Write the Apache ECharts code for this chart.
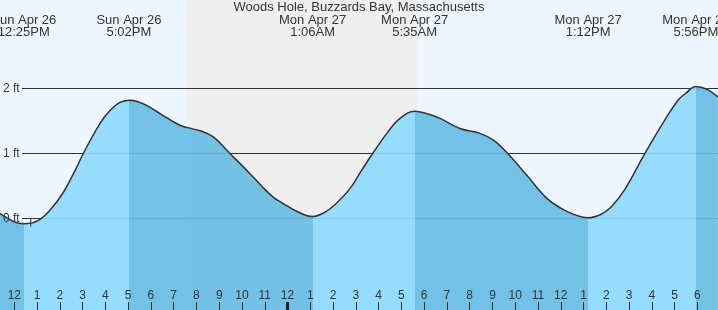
<!DOCTYPE html>
<html><head><meta charset="utf-8">
<script src="https://cdn.jsdelivr.net/npm/echarts@6/dist/echarts.min.js"></script>
<style>html,body{margin:0;padding:0;background:#EEF7FF}#c{width:718px;height:310px}</style>
</head><body><div id="c"></div>
<script>
// Hours counted from Sun Apr 26 00:00
const tideHours = [11.37,12.00,12.42,13.00,13.57,14.15,14.67,15.03,15.76,16.20,16.60,17.03,17.40,17.81,18.40,19.28,20.16,20.74,21.47,22.35,22.94,23.37,23.81,24.46,25.10,25.61,26.10,26.74,27.25,27.74,28.36,28.94,29.58,30.10,30.70,31.57,32.45,33.04,33.63,34.51,35.39,36.02,36.60,37.20,37.80,38.22,38.80,39.69,40.56,41.15,41.50,41.93,42.40,42.90];
const tideFeet  = [0.08,-0.05,-0.08,-0.04,0.13,0.40,0.74,1.00,1.46,1.66,1.78,1.82,1.80,1.74,1.615,1.435,1.35,1.255,1.00,0.69,0.47,0.33,0.23,0.10,0.03,0.09,0.22,0.46,0.74,1.00,1.31,1.54,1.65,1.615,1.54,1.385,1.31,1.205,1.015,0.665,0.31,0.155,0.06,0.01,0.07,0.18,0.44,1.00,1.51,1.82,1.93,2.03,1.99,1.87];

const extremeDays   = ['Sun Apr 26','Sun Apr 26','Mon Apr 27','Mon Apr 27','Mon Apr 27','Mon Apr 27'];
const extremeClocks = ['12:25PM','5:02PM','1:06AM','5:35AM','1:12PM','5:56PM'];
const extremeKinds  = ['low','high','low','high','low','high'];

const hourTicks = [12,13,14,15,16,17,18,19,20,21,22,23,24,25,26,27,28,29,30,31,32,33,34,35,36,37,38,39,40,41,42];
const midnightTicks = [24];
const feetTicks = [0,1,2];
const sunsetHour = 19.60;
const sunriseHour = 29.717;
const nowHour = 12.72;

const X_MIN = 11.372, X_MAX = 42.905, Y_MIN = -1.408, Y_MAX = 3.362;
const LIGHT = '#8EDAFE', DARK = '#68BDE4', INK = '#333333';

function clockToHours(day, clock) {
  const m = clock.match(/(\d+):(\d+)(AM|PM)/);
  let h = (+m[1]) % 12; if (m[3] === 'PM') h += 12;
  return (day.startsWith('Mon') ? 24 : 0) + h + (+m[2]) / 60;
}
const extremeHours = extremeDays.map((d, i) => clockToHours(d, extremeClocks[i]));
const tideData = tideHours.map((h, i) => [h, tideFeet[i]]);

const pieces = [{ lt: extremeHours[0], color: DARK }];
for (let i = 0; i < extremeHours.length - 1; i++) {
  pieces.push({ gte: extremeHours[i], lt: extremeHours[i + 1], color: extremeKinds[i + 1] === 'high' ? LIGHT : DARK });
}
pieces.push({ gte: extremeHours[extremeHours.length - 1], color: DARK });

const FONT = "'Liberation Sans', Arial, sans-serif";
const SMOOTH = 0.4;
const G = { left: 0, right: 0, top: 0, bottom: 0, containLabel: false, outerBoundsMode: 'none' };
const chart = echarts.init(document.getElementById('c'), null, { renderer: 'canvas' });
chart.setOption({
  animation: false,
  backgroundColor: '#EEF7FF',
  textStyle: { fontFamily: FONT },
  title: { text: 'Woods Hole, Buzzards Bay, Massachusetts', left: 'center', top: 0, padding: [1, 5],
    textStyle: { fontFamily: FONT, fontSize: 13, fontWeight: 'normal', color: INK } },
  grid: [ Object.assign({}, G), Object.assign({}, G, { left: 22 }), Object.assign({}, G) ],
  xAxis: [
    { type: 'value', gridIndex: 0, position: 'bottom', min: X_MIN, max: X_MAX, z: 4,
      axisLine: { show: false, onZero: false }, splitLine: { show: false },
      axisTick: { show: true, inside: true, length: 8, customValues: hourTicks, lineStyle: { color: INK, width: 1 } },
      axisLabel: { show: true, inside: true, margin: 8, customValues: hourTicks, fontSize: 12, color: INK, fontFamily: FONT,
        formatter: v => String((Math.round(v) % 12) || 12) } },
    { type: 'value', gridIndex: 0, position: 'top', min: X_MIN, max: X_MAX, z: 4,
      axisLine: { show: false, onZero: false }, splitLine: { show: false }, axisTick: { show: false },
      axisLabel: { show: true, inside: true, margin: 14, customValues: extremeHours, fontSize: 13, lineHeight: 12, color: INK, fontFamily: FONT,
        formatter: v => { let k = 0; extremeHours.forEach((h, i) => { if (Math.abs(h - v) < Math.abs(extremeHours[k] - v)) k = i; });
          return extremeDays[k] + '\n' + extremeClocks[k]; } } },
    { type: 'value', gridIndex: 1, min: X_MIN, max: X_MAX, show: false, axisLine: { onZero: false } },
    { type: 'value', gridIndex: 2, position: 'bottom', min: X_MIN, max: X_MAX, z: 5,
      axisLine: { show: false, onZero: false }, splitLine: { show: false },
      axisLabel: { show: false, customValues: midnightTicks },
      axisTick: { show: true, inside: true, length: 8, customValues: midnightTicks, lineStyle: { color: '#222', width: 3 } } }
  ],
  yAxis: [
    { type: 'value', gridIndex: 0, min: Y_MIN, max: Y_MAX, z: 4,
      axisLine: { show: false, onZero: false }, splitLine: { show: false }, axisTick: { show: false, customValues: feetTicks },
      axisLabel: { show: true, inside: true, margin: 3, customValues: feetTicks, fontSize: 12, color: INK, fontFamily: FONT,
        formatter: v => v + ' ft' } },
    { type: 'value', gridIndex: 1, min: Y_MIN, max: Y_MAX, z: 1,
      axisLine: { show: false, onZero: false }, axisLabel: { show: false, customValues: feetTicks }, axisTick: { show: false, customValues: feetTicks },
      splitLine: { show: true, lineStyle: { color: INK, width: 1 } } },
    { type: 'value', gridIndex: 2, min: Y_MIN, max: Y_MAX, show: false, axisLine: { onZero: false } }
  ],
  visualMap: { type: 'piecewise', show: false, dimension: 0, seriesIndex: 1, pieces: pieces },
  series: [
    { type: 'line', xAxisIndex: 0, yAxisIndex: 0, data: [[X_MIN, 0]], showSymbol: false, silent: true, z: 0,
      lineStyle: { opacity: 0 },
      markArea: { silent: true, z: 0, itemStyle: { color: '#EFEFEF', opacity: 1 },
        data: [[{ xAxis: sunsetHour }, { xAxis: sunriseHour }]] } },
    { type: 'line', xAxisIndex: 0, yAxisIndex: 0, data: tideData, smooth: SMOOTH, showSymbol: false, silent: true, z: 2,
      lineStyle: { width: 0 }, areaStyle: { origin: 'start', opacity: 0.92 } },
    { type: 'line', xAxisIndex: 0, yAxisIndex: 0, data: tideData, smooth: SMOOTH, showSymbol: false, silent: true, z: 3,
      lineStyle: { color: INK, width: 1.5 }, itemStyle: { color: INK } },
    { type: 'scatter', xAxisIndex: 0, yAxisIndex: 0, data: [[nowHour, 0]], symbol: 'rect', symbolSize: [1.3, 8],
      symbolOffset: [0, 4], silent: true, z: 4, itemStyle: { color: INK } }
  ]
});
</script>
</body></html>
